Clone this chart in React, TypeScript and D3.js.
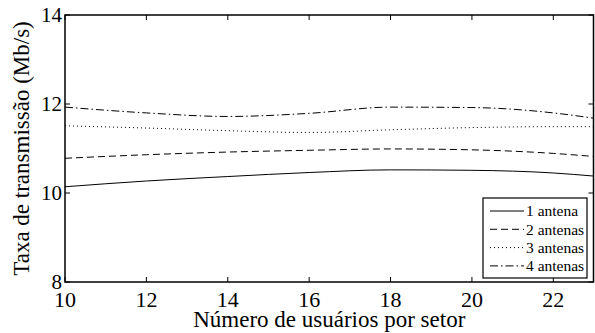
import React from "react";
import * as d3 from "d3";

const usuarios = [10, 12, 14, 16, 18, 20, 22, 23];
const antena1 = [10.14, 10.27, 10.37, 10.46, 10.52, 10.51, 10.45, 10.38];
const antena2 = [10.78, 10.86, 10.92, 10.96, 10.99, 10.97, 10.89, 10.82];
const antena3 = [11.51, 11.46, 11.4, 11.36, 11.42, 11.47, 11.49, 11.49];
const antena4 = [11.93, 11.8, 11.72, 11.79, 11.93, 11.92, 11.8, 11.68];
const seriesNames = ["1 antena", "2 antenas", "3 antenas", "4 antenas"];
const xTicks = [10, 12, 14, 16, 18, 20, 22];
const yTicks = [8, 10, 12, 14];

const dashes = [null, "7,4", "1,3", "8,3,1.5,3"];
const font = "Liberation Serif, serif";

const W = 595;
const H = 333;
const margin = { left: 65, top: 15, right: 1, bottom: 51 };

const App = () => {
  const x = d3.scaleLinear().domain([10, 23]).range([margin.left, W - margin.right]);
  const y = d3.scaleLinear().domain([8, 14]).range([H - margin.bottom, margin.top]);
  const all = [antena1, antena2, antena3, antena4];

  const line = d3
    .line<number>()
    .x((_, i) => x(usuarios[i]))
    .y((d) => y(d))
    .curve(d3.curveMonotoneX);

  const x0 = x(10), x1 = x(23) - 0.5, y0 = y(8), y1 = y(14);
  const tk = 5;

  // legenda
  const lg = { x: 483, y: 198, w: 104, h: 80, row: 18.3 };

  return (
    <svg width={W} height={H} style={{ position: "absolute", left: 0, top: 0 }}>
      <rect width={W} height={H} fill="white" />
      <defs>
        <clipPath id="plot">
          <rect x={x0} y={y1} width={x1 - x0} height={y0 - y1} />
        </clipPath>
      </defs>
      <g clipPath="url(#plot)">
        {all.map((s, i) => (
          <path
            key={i}
            d={line(s) || ""}
            fill="none"
            stroke="black"
            strokeWidth={1}
            strokeDasharray={dashes[i] || undefined}
          />
        ))}
      </g>
      {/* moldura */}
      <rect x={x0} y={y1} width={x1 - x0} height={y0 - y1} fill="none" stroke="black" strokeWidth={1.5} />
      {xTicks.map((t) => (
        <g key={"x" + t}>
          <line x1={x(t)} x2={x(t)} y1={y0} y2={y0 - tk} stroke="black" />
          <line x1={x(t)} x2={x(t)} y1={y1} y2={y1 + tk} stroke="black" />
          <text x={x(t)} y={y0 + 25} textAnchor="middle" fontFamily={font} fontSize={22}>
            {t}
          </text>
        </g>
      ))}
      {yTicks.map((t) => (
        <g key={"y" + t}>
          <line x1={x0} x2={x0 + tk} y1={y(t)} y2={y(t)} stroke="black" />
          <line x1={x1} x2={x1 - tk} y1={y(t)} y2={y(t)} stroke="black" />
          <text x={x0 - 3} y={y(t)} dy="0.33em" textAnchor="end" fontFamily={font} fontSize={21}>
            {t}
          </text>
        </g>
      ))}
      <text x={(x0 + x1) / 2} y={327} textAnchor="middle" fontFamily={font} fontSize={23}>
        Número de usuários por setor
      </text>
      <text
        transform={`translate(${21},${(y0 + y1) / 2}) rotate(-90)`}
        textAnchor="middle"
        dy="0.33em"
        fontFamily={font}
        fontSize={23}
      >
        Taxa de transmissão (Mb/s)
      </text>
      <rect x={lg.x} y={lg.y} width={lg.w} height={lg.h} fill="white" stroke="black" strokeWidth={1.2} />
      {seriesNames.map((n, i) => {
        const cy = lg.y + 13 + i * lg.row;
        return (
          <g key={n}>
            <line
              x1={lg.x + 7}
              x2={lg.x + 41}
              y1={cy}
              y2={cy}
              stroke="black"
              strokeDasharray={dashes[i] || undefined}
            />
            <text x={lg.x + 43} y={cy} dy="0.35em" fontFamily={font} fontSize={15.5}>
              {n}
            </text>
          </g>
        );
      })}
    </svg>
  );
};

export default App;
